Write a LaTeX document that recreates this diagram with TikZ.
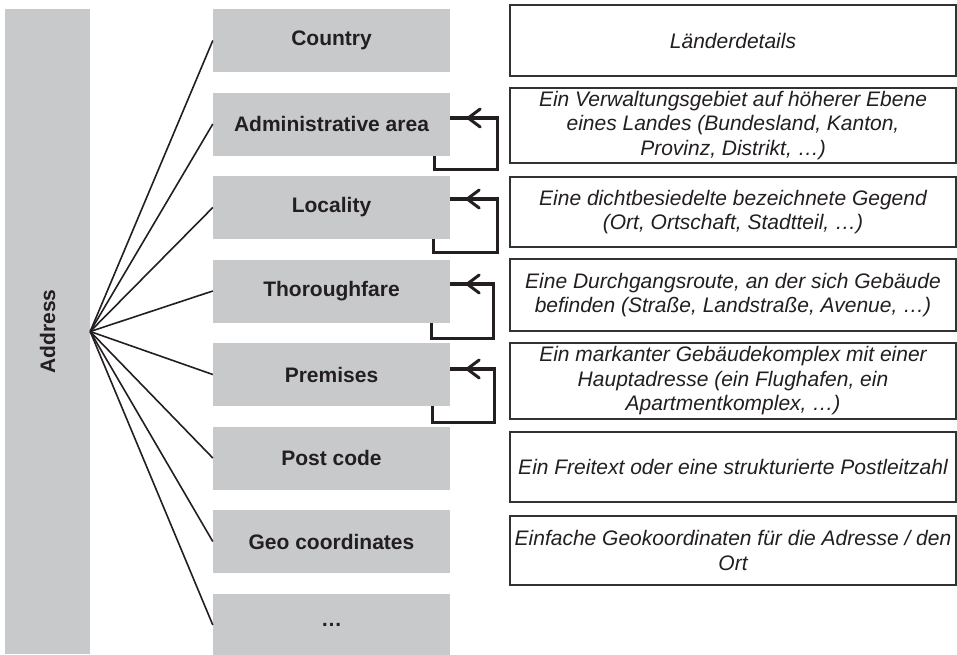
\documentclass[tikz,border=0pt]{standalone}
\usepackage{fontspec}
\setmainfont{Liberation Sans}
\usetikzlibrary{positioning}
\definecolor{boxgray}{RGB}{200,201,203}
\definecolor{ink}{RGB}{35,31,32}
\definecolor{framegray}{RGB}{50,50,50}
\tikzset{
  gbox/.style={rectangle, fill=boxgray, draw=none, minimum width=237pt, minimum height=63pt, inner sep=0pt,
    text=ink, font=\fontsize{21}{24}\selectfont\bfseries},
  tbox/.style={rectangle, draw=framegray, line width=1.8pt, fill=white, minimum width=446pt, inner sep=0pt,
    align=center, text=ink, font=\fontsize{21}{24.5}\selectfont\itshape},
  fan/.style={draw=ink, line width=1.6pt},
  selfloop/.style={draw=ink, line width=3.2pt, line join=miter},
  barb/.style={draw=ink, line width=3pt, line cap=round, line join=round}
}
\begin{document}
\begin{tikzpicture}[x=1pt,y=-1pt]
\useasboundingbox (0,0) rectangle (957,654);
% Address bar
\node[rectangle, fill=boxgray, minimum width=85pt, minimum height=645pt, inner sep=0pt] (address) at (47.5,331.5) {};
\node[rotate=90, text=ink, font=\fontsize{21}{24}\selectfont\bfseries] (addresslabel) at (47.5,331.5) {Address};
% Gray boxes
\node[gbox] (country) at (331.5,40.5) {Country};
\node[gbox] (admin) at (331.5,124) {Administrative area};
\node[gbox] (locality) at (331.5,207.5) {Locality};
\node[gbox] (thor) at (331.5,291) {Thoroughfare};
\node[gbox] (prem) at (331.5,374.5) {Premises};
\node[gbox] (post) at (331.5,458) {Post code};
\node[gbox] (geo) at (331.5,541.5) {Geo coordinates};
\node[gbox] (more) at (331.5,625) {…};
% Fan lines
\foreach \n in {country,admin,locality,thor,prem,post,geo,more}
  \draw[fan] (address.east) -- (\n.west);
% Text boxes
\node[tbox, minimum height=71pt] (tcountry) at (733,40.5) {Länderdetails};
\node[tbox, minimum height=75pt] (tadmin) at (733,125.5) {Ein Verwaltungsgebiet auf höherer Ebene\\eines Landes (Bundesland, Kanton,\\Provinz, Distrikt, …)};
\node[tbox, minimum height=70pt] (tlocality) at (733,212) {Eine dichtbesiedelte bezeichnete Gegend\\(Ort, Ortschaft, Stadtteil, …)};
\node[tbox, minimum height=72pt] (tthor) at (733,295) {Eine Durchgangsroute, an der sich Gebäude\\befinden (Straße, Landstraße, Avenue, …)};
\node[tbox, minimum height=76pt] (tprem) at (733,381) {Ein markanter Gebäudekomplex mit einer\\Hauptadresse (ein Flughafen, ein\\Apartmentkomplex, …)};
\node[tbox, minimum height=70pt] (tpost) at (733,467) {Ein Freitext oder eine strukturierte Postleitzahl};
\node[tbox, minimum height=69pt] (tgeo) at (733,550.5) {Einfache Geokoordinaten für die Adresse / den\\Ort};
% Self loops
\draw[selfloop] ([xshift=-16pt]admin.south east) -- ++(0,13.5) -- ++(63,0) |- ([yshift=6pt]admin.east);
\draw[barb] ([shift={(18pt,6pt)}]admin.east) ++(12,-9) -- ++(-12,9) -- ++(12,9);
\draw[selfloop] ([xshift=-17pt]locality.south east) -- ++(0,13) -- ++(64,0) |- ([yshift=8.5pt]locality.east);
\draw[barb] ([shift={(17pt,8.5pt)}]locality.east) ++(12,-9) -- ++(-12,9) -- ++(12,9);
\draw[selfloop] ([xshift=-19pt]thor.south east) -- ++(0,15.5) -- ++(62,0) |- ([yshift=7pt]thor.east);
\draw[barb] ([shift={(17pt,7pt)}]thor.east) ++(12,-9) -- ++(-12,9) -- ++(12,9);
\draw[selfloop] ([xshift=-18pt]prem.south east) -- ++(0,16) -- ++(62,0) |- ([yshift=5.5pt]prem.east);
\draw[barb] ([shift={(17pt,5.5pt)}]prem.east) ++(12,-9) -- ++(-12,9) -- ++(12,9);
\end{tikzpicture}
\end{document}
